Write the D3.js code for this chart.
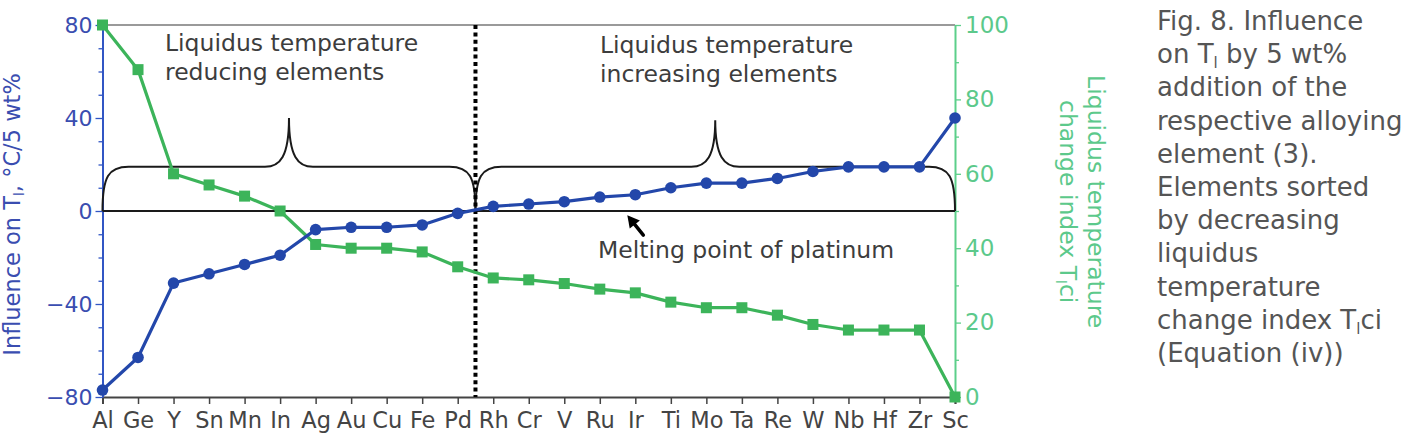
<!DOCTYPE html>
<html>
<head>
<meta charset="utf-8">
<script src="https://cdn.jsdelivr.net/npm/d3@7"></script>
<style>
  html, body { margin: 0; padding: 0; background: #fff; }
  svg { display: block; }
  text { font-family: "DejaVu Sans", Verdana, sans-serif; }
</style>
</head>
<body>
<svg id="chart" width="1410" height="446"></svg>
<script>
// ---- Data ----
const elements = ["Al","Ge","Y","Sn","Mn","In","Ag","Au","Cu","Fe","Pd","Rh","Cr","V","Ru","Ir","Ti","Mo","Ta","Re","W","Nb","Hf","Zr","Sc"];
const influence = [-77,-63,-31,-27,-23,-19,-8,-7,-7,-6,-1,2,3,4,6,7,10,12,12,14,17,19,19,19,40];
const changeIndex = [100,88,60,57,54,50,41,40,40,39,35,32,31.5,30.5,29,28,25.5,24,24,22,19.5,18,18,18,0];
const leftTicks = [-80,-40,0,40,80];
const leftMinor = [-70,-60,-50,-30,-20,-10,10,20,30,50,60,70];
const rightTicks = [0,20,40,60,80,100];
const rightMinor = [10,30,50,70,90];
const captionLines = [
  ["Fig. 8. Influence"],
  ["on T", {sub:"l"}, " by 5 wt%"],
  ["addition of the"],
  ["respective alloying"],
  ["element (3)."],
  ["Elements sorted"],
  ["by decreasing"],
  ["liquidus"],
  ["temperature"],
  ["change index T", {sub:"l"}, "ci"],
  ["(Equation (iv))"]
];

// ---- Layout ----
const pLeft = 102.5, pRight = 955, pTop = 25, pBottom = 397;
const blue = "#2347aa", green = "#3cb45a";
const axisBlue = "#3156c4", labelBlue = "#3a4db0";
const axisGreen = "#5ccf8a", labelGreen = "#5cc98b";
const textGrey = "#3d3d3d";
const FONT = "'DejaVu Sans', Verdana, sans-serif";

const svg = d3.select("#chart");
const x = d3.scalePoint().domain(elements).range([pLeft, pRight]).padding(0);
const yL = d3.scaleLinear().domain([-80, 80]).range([pBottom, pTop]);
const yR = d3.scaleLinear().domain([0, 100]).range([pBottom, pTop]);
const xDiv = (x("Pd") + x("Rh")) / 2;

function writeParts(el, parts, subSize, shift) {
  let pendingUp = 0;
  parts.forEach(p => {
    if (typeof p === "string") {
      const t = el.append("tspan").text(p);
      if (pendingUp) { t.attr("dy", -pendingUp); pendingUp = 0; }
    } else {
      el.append("tspan").text(p.sub).style("font-size", subSize + "px").attr("dy", shift);
      pendingUp = shift;
    }
  });
}

// top border
svg.append("line").attr("x1", pLeft).attr("x2", pRight).attr("y1", pTop).attr("y2", pTop)
  .attr("stroke", "#9a9a9a").attr("stroke-width", 2);

// bottom axis
const gx = svg.append("g").attr("transform", `translate(0,${pBottom})`)
  .call(d3.axisBottom(x).tickSize(7).tickPadding(8));
gx.select(".domain").attr("stroke", "#444").attr("stroke-width", 2);
gx.selectAll(".tick line").attr("stroke", "#444").attr("stroke-width", 1.5);
gx.selectAll(".tick text").attr("fill", "#444").style("font-size", "22.5px").style("font-family", FONT);

// left axis
const gLm = svg.append("g").attr("transform", `translate(${pLeft},0)`)
  .call(d3.axisLeft(yL).tickValues(leftMinor).tickSize(4).tickFormat(""));
gLm.select(".domain").remove();
gLm.selectAll(".tick line").attr("stroke", axisBlue).attr("stroke-width", 1.3);
const gL = svg.append("g").attr("transform", `translate(${pLeft},0)`)
  .call(d3.axisLeft(yL).tickValues(leftTicks).tickSize(7).tickSizeOuter(0).tickPadding(3));
gL.select(".domain").attr("stroke", axisBlue).attr("stroke-width", 2);
gL.selectAll(".tick line").attr("stroke", axisBlue).attr("stroke-width", 1.3);
gL.selectAll(".tick text").attr("fill", labelBlue).style("font-size", "22px").style("font-family", FONT);

// right axis
const gRm = svg.append("g").attr("transform", `translate(${pRight},0)`)
  .call(d3.axisRight(yR).tickValues(rightMinor).tickSize(4).tickFormat(""));
gRm.select(".domain").remove();
gRm.selectAll(".tick line").attr("stroke", axisGreen).attr("stroke-width", 1.3);
const gR = svg.append("g").attr("transform", `translate(${pRight},0)`)
  .call(d3.axisRight(yR).tickValues(rightTicks).tickSize(6).tickSizeOuter(0).tickPadding(4));
gR.select(".domain").attr("stroke", axisGreen).attr("stroke-width", 2);
gR.selectAll(".tick line").attr("stroke", axisGreen).attr("stroke-width", 1.3);
gR.selectAll(".tick text").attr("fill", labelGreen).style("font-size", "23px").style("font-family", FONT);

// axis titles
const lt = svg.append("text").attr("transform", `translate(20,${yL(-1.5)}) rotate(-90)`)
  .attr("text-anchor", "middle").attr("fill", labelBlue).style("font-size", "22.5px");
writeParts(lt, ["Influence on T", {sub: "l"}, ", °C/5 wt%"], 14, 4);

const rt = svg.append("text").attr("transform", `translate(1088,${yL(4)}) rotate(90)`)
  .attr("text-anchor", "middle").attr("fill", labelGreen).style("font-size", "23.5px");
rt.append("tspan").attr("x", 0).attr("y", 0).text("Liquidus temperature");
const rt2 = rt.append("tspan").attr("x", 0).attr("y", 28);
writeParts(rt2, ["change index T", {sub: "l"}, "ci"], 14, 4);

// zero line
svg.append("line").attr("x1", pLeft).attr("x2", pRight).attr("y1", yL(0)).attr("y2", yL(0))
  .attr("stroke", "#1a1a1a").attr("stroke-width", 2);

// braces
function brace(x0, x1, yb, yf, yt) {
  const cx = (x0 + x1) / 2, r = 26, t = 24;
  return `M${x0},${yb} C${x0},${yf + 10} ${x0 + 6},${yf} ${x0 + r},${yf} L${cx - t},${yf} ` +
    `C${cx - 9},${yf} ${cx},${yf - 10} ${cx},${yt} ` +
    `M${cx},${yt} C${cx},${yf - 10} ${cx + 9},${yf} ${cx + t},${yf} L${x1 - r},${yf} ` +
    `C${x1 - 6},${yf} ${x1},${yf + 10} ${x1},${yb}`;
}
svg.append("path").attr("d", brace(x("Al"), xDiv, yL(0), yL(19), yL(40)))
  .attr("fill", "none").attr("stroke", "#1a1a1a").attr("stroke-width", 2);
svg.append("path").attr("d", brace(xDiv, x("Sc"), yL(0), yL(19), yL(39)))
  .attr("fill", "none").attr("stroke", "#1a1a1a").attr("stroke-width", 2);

// dotted divider
svg.append("line").attr("x1", xDiv).attr("x2", xDiv).attr("y1", pTop).attr("y2", pBottom)
  .attr("stroke", "#000").attr("stroke-width", 4).attr("stroke-dasharray", "4 3.4");

// green series
svg.append("path").datum(changeIndex)
  .attr("d", d3.line().x((d, i) => x(elements[i])).y(d => yR(d)))
  .attr("fill", "none").attr("stroke", green).attr("stroke-width", 3.2).attr("stroke-linejoin", "round");
svg.append("g").selectAll("rect").data(changeIndex).join("rect")
  .attr("x", (d, i) => x(elements[i]) - 5.5).attr("y", d => yR(d) - 5.5)
  .attr("width", 11).attr("height", 11).attr("fill", green);

// blue series
svg.append("path").datum(influence)
  .attr("d", d3.line().x((d, i) => x(elements[i])).y(d => yL(d)))
  .attr("fill", "none").attr("stroke", blue).attr("stroke-width", 3.2).attr("stroke-linejoin", "round");
svg.append("g").selectAll("circle").data(influence).join("circle")
  .attr("cx", (d, i) => x(elements[i])).attr("cy", d => yL(d)).attr("r", 5.8).attr("fill", blue);

// annotations
function twoLine(xp, y1, lines) {
  const t = svg.append("text").attr("fill", textGrey).style("font-size", "23.5px");
  lines.forEach((s, i) => t.append("tspan").attr("x", xp).attr("y", y1 + i * 29).text(s));
}
twoLine(165, 51, ["Liquidus temperature", "reducing elements"]);
twoLine(600, 53, ["Liquidus temperature", "increasing elements"]);

svg.append("text").attr("x", 598).attr("y", 258).attr("fill", textGrey)
  .style("font-size", "23.5px").text("Melting point of platinum");

// arrow
const ax2 = x("Ir") - 8, ay2 = yL(-1.8), ax1 = ax2 + 16, ay1 = ay2 + 20;
const ang = Math.atan2(ay2 - ay1, ax2 - ax1);
svg.append("line").attr("x1", ax1).attr("y1", ay1)
  .attr("x2", ax2 - Math.cos(ang) * 6).attr("y2", ay2 - Math.sin(ang) * 6)
  .attr("stroke", "#000").attr("stroke-width", 3.5).attr("stroke-linecap", "round");
const hl = 12, hw = 6.5;
const bx = ax2 - Math.cos(ang) * hl, by = ay2 - Math.sin(ang) * hl;
svg.append("path")
  .attr("d", `M${ax2},${ay2} L${bx - Math.sin(ang) * hw},${by + Math.cos(ang) * hw} L${bx + Math.sin(ang) * hw},${by - Math.cos(ang) * hw} Z`)
  .attr("fill", "#000");

// caption
const cap = svg.append("text").attr("fill", "#555").style("font-size", "26px");
captionLines.forEach((parts, i) => {
  const line = cap.append("tspan").attr("x", 1157).attr("y", 30 + i * 33.2);
  writeParts(line, parts, 15, 5);
});
</script>
</body>
</html>
